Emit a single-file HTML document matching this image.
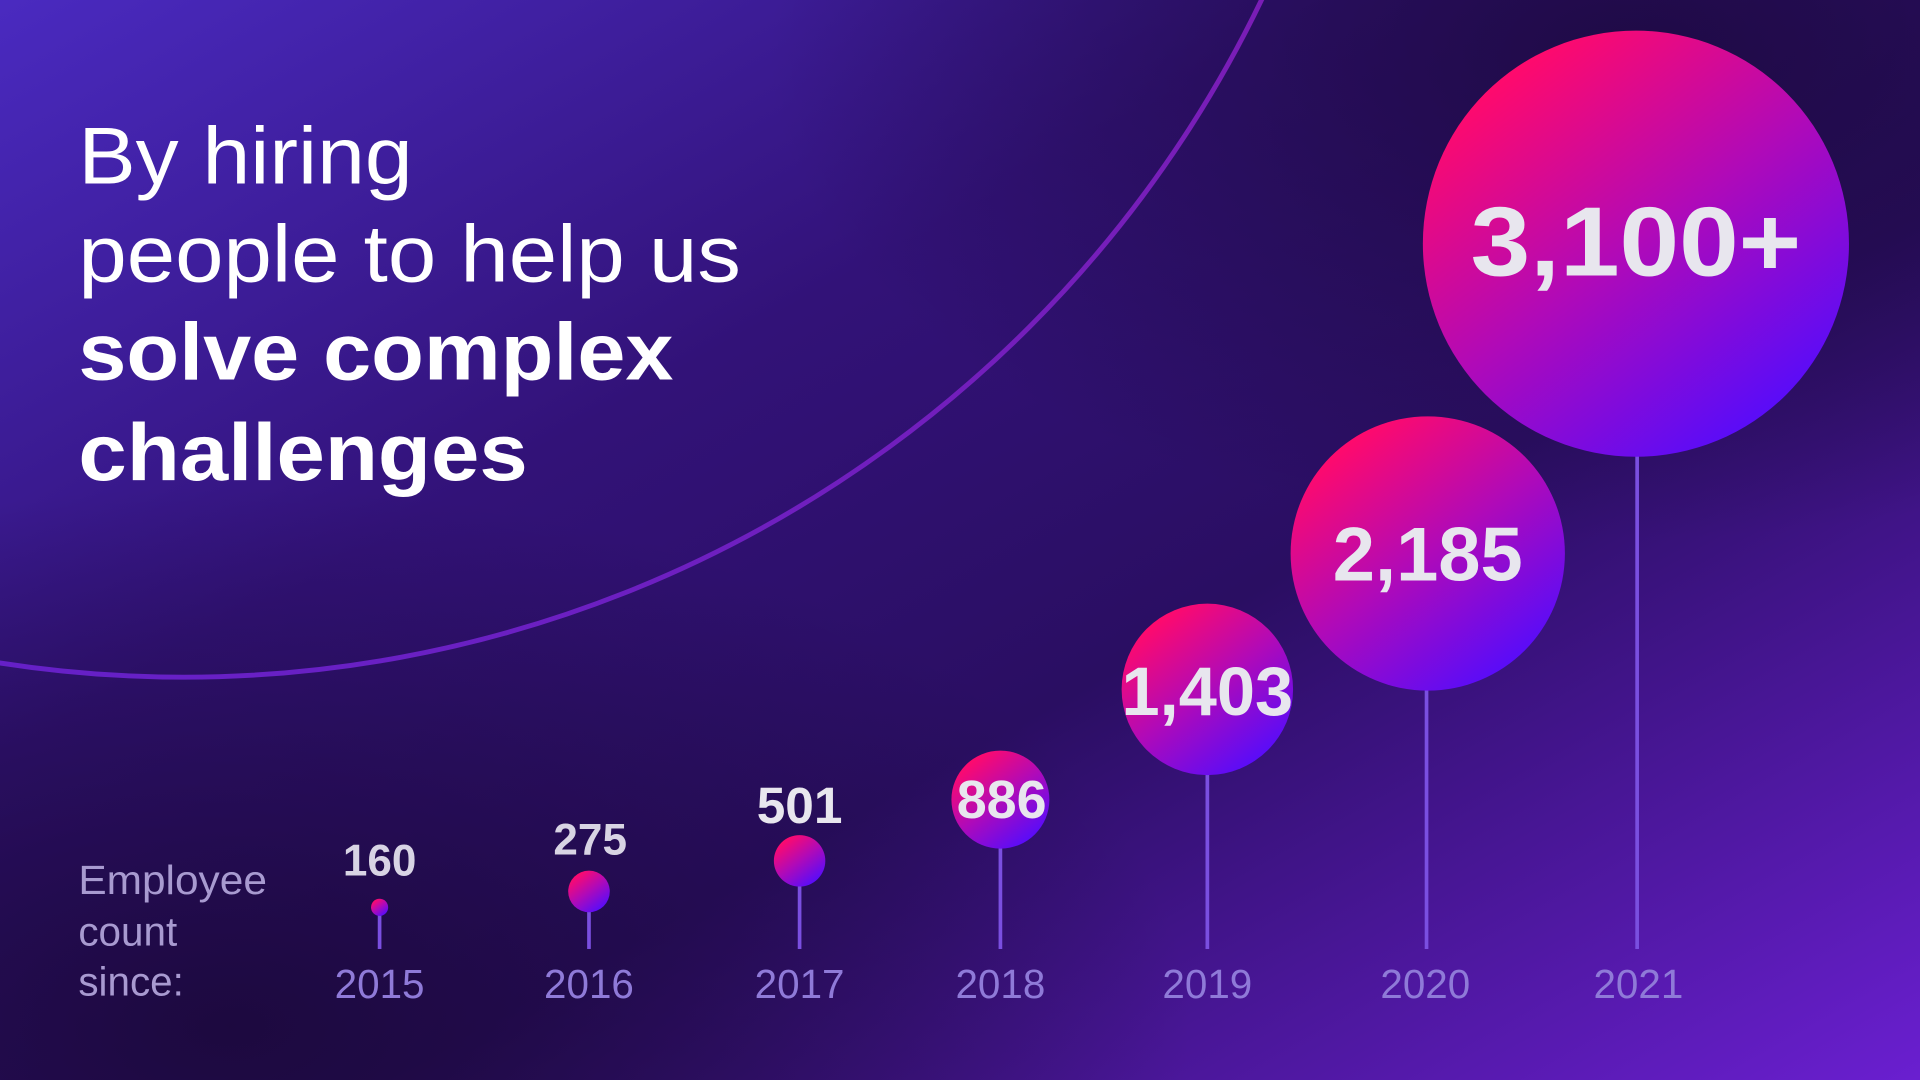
<!DOCTYPE html>
<html><head><meta charset="utf-8"><style>
html,body{margin:0;padding:0;width:1920px;height:1080px;overflow:hidden;background:#240d52}
svg{display:block}
text{font-family:"Liberation Sans",sans-serif}
</style></head><body>
<svg width="1920" height="1080" viewBox="0 0 1568 882" preserveAspectRatio="none">
<defs>
<linearGradient id="bg" x1="0" y1="0" x2="1" y2="1">
<stop offset="0" stop-color="#4a2ac0"/>
<stop offset="0.35" stop-color="#321278"/>
<stop offset="0.6" stop-color="#2a0e62"/>
<stop offset="1" stop-color="#6a1fd0"/>
</linearGradient>
<radialGradient id="dk" cx="0.12" cy="0.95" r="0.5">
<stop offset="0" stop-color="#1a0838" stop-opacity="0.85"/>
<stop offset="1" stop-color="#1a0838" stop-opacity="0"/>
</radialGradient>
<radialGradient id="dk2" cx="0.85" cy="0.05" r="0.45">
<stop offset="0" stop-color="#1a0838" stop-opacity="0.75"/>
<stop offset="1" stop-color="#1a0838" stop-opacity="0"/>
</radialGradient>
<linearGradient id="arc" x1="0" y1="1" x2="1" y2="0">
<stop offset="0" stop-color="#5a22d0"/>
<stop offset="1" stop-color="#8e1aa6"/>
</linearGradient>
<linearGradient id="ball" x1="0.2" y1="0.1" x2="0.8" y2="0.9">
<stop offset="0" stop-color="#ff0a6c"/>
<stop offset="0.5" stop-color="#b00ab8"/>
<stop offset="1" stop-color="#5a0cf8"/>
</linearGradient>
</defs>
<rect width="1568" height="882" fill="url(#bg)"/>
<rect width="1568" height="882" fill="url(#dk)"/>
<rect width="1568" height="882" fill="url(#dk2)"/>
<circle cx="150" cy="-424" r="977" fill="none" stroke="url(#arc)" stroke-width="4"/>
<g fill="#ffffff" font-size="66">
<text x="64" y="150" textLength="273" lengthAdjust="spacingAndGlyphs">By hiring</text>
<text x="64" y="230" textLength="541" lengthAdjust="spacingAndGlyphs">people to help us</text>
<text x="64" y="310" font-weight="bold" textLength="486" lengthAdjust="spacingAndGlyphs">solve complex</text>
<text x="64" y="392" font-weight="bold" textLength="367" lengthAdjust="spacingAndGlyphs">challenges</text>
</g>
<g fill="#a89ad0" font-size="33">
<text x="64" y="730" textLength="154" lengthAdjust="spacingAndGlyphs">Employee</text>
<text x="64" y="772">count</text>
<text x="64" y="813">since:</text>
</g>
<g stroke="#7a4fe0" stroke-width="3">
<line x1="310" y1="741" x2="310" y2="775"/>
<line x1="481" y1="728" x2="481" y2="775"/>
<line x1="653" y1="703" x2="653" y2="775"/>
<line x1="817" y1="653" x2="817" y2="775"/>
<line x1="986" y1="563" x2="986" y2="775"/>
<line x1="1165" y1="452" x2="1165" y2="775"/>
<line x1="1337" y1="199" x2="1337" y2="775"/>
</g>
<g fill="url(#ball)">
<circle cx="310" cy="741" r="7"/>
<circle cx="481" cy="728" r="17"/>
<circle cx="653" cy="703" r="21"/>
<circle cx="817" cy="653" r="40"/>
<circle cx="986" cy="563" r="70"/>
<circle cx="1166" cy="452" r="112"/>
<circle cx="1336" cy="199" r="174"/>
</g>
<g fill="#e8e6ee" font-weight="bold" text-anchor="middle">
<text x="310" y="715" font-size="36" fill="#d8d4e4">160</text>
<text x="482" y="698" font-size="36" fill="#d8d4e4">275</text>
<text x="653" y="672" font-size="42">501</text>
<text x="818" y="668" font-size="44">886</text>
<text x="986" y="584" font-size="56">1,403</text>
<text x="1166" y="474" font-size="62">2,185</text>
<text x="1336" y="225" font-size="80" textLength="270" lengthAdjust="spacingAndGlyphs">3,100+</text>
</g>
<g fill="#8f7ad8" font-size="33" text-anchor="middle">
<text x="310" y="815">2015</text>
<text x="481" y="815">2016</text>
<text x="653" y="815">2017</text>
<text x="817" y="815">2018</text>
<text x="986" y="815">2019</text>
<text x="1164" y="815">2020</text>
<text x="1338" y="815">2021</text>
</g>
</svg>
</body></html>
